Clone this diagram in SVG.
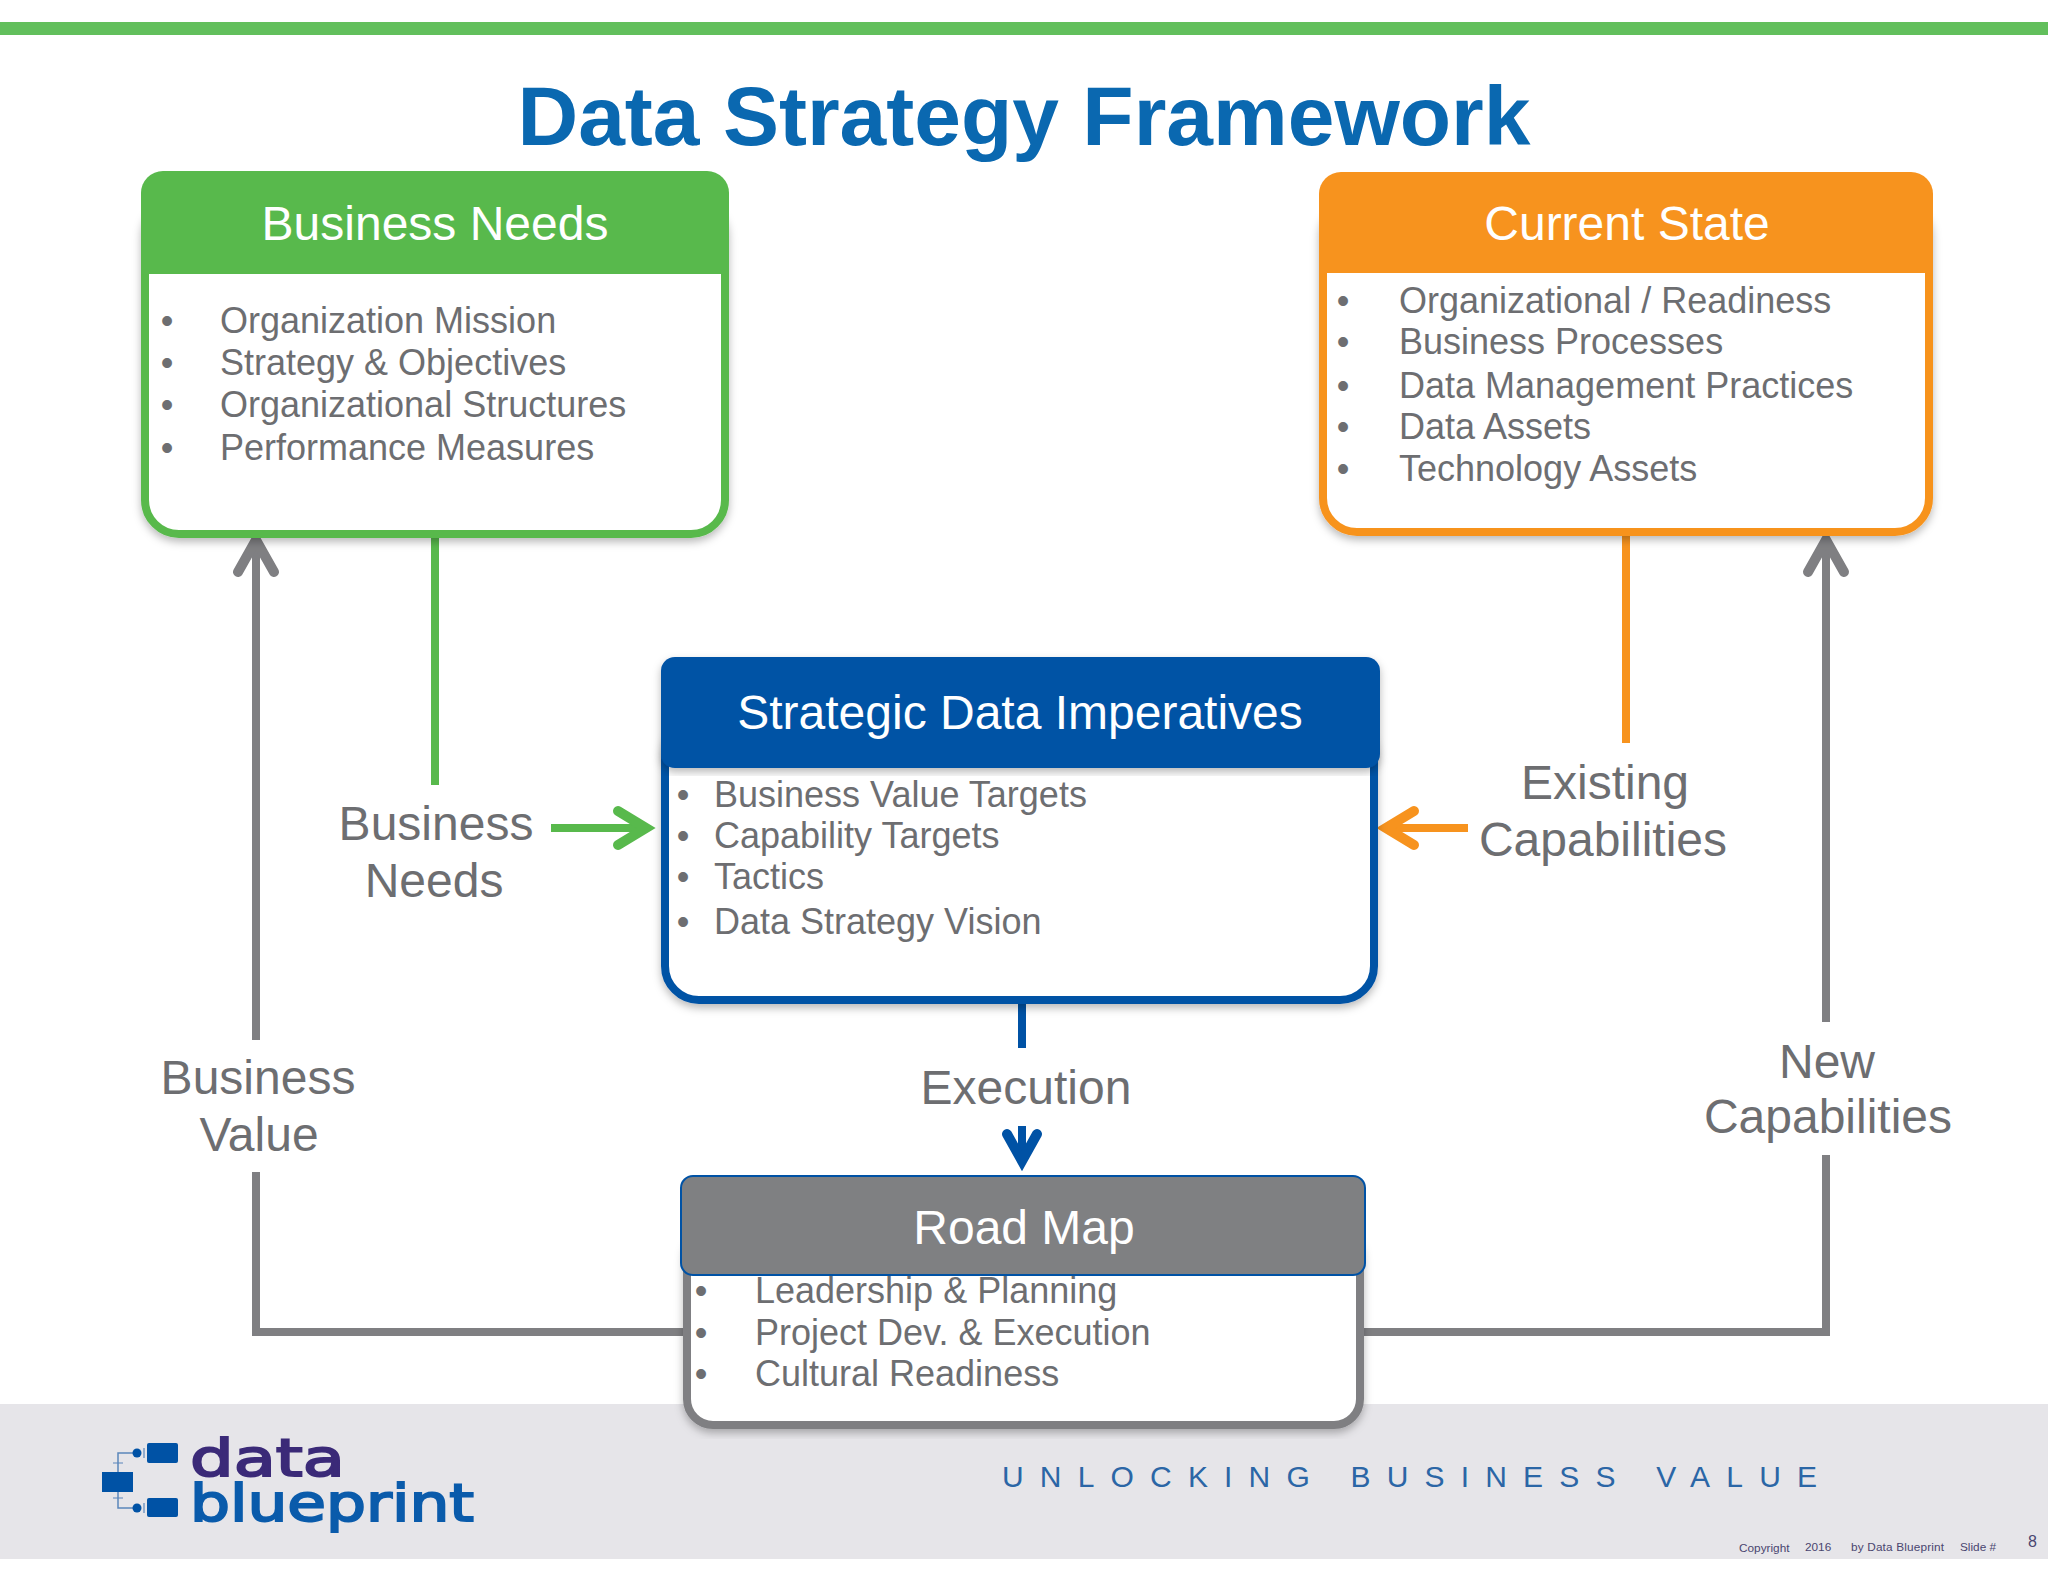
<svg xmlns="http://www.w3.org/2000/svg" width="2048" height="1582" viewBox="0 0 2048 1582">
<style>
text{font-family:"Liberation Sans",Arial,sans-serif}
.h{font-size:48px;fill:#fff;text-anchor:middle}
.li{font-size:36px;fill:#6d6e71}
.b{font-size:36px;fill:#6d6e71;text-anchor:middle}
.lb{font-size:48px;fill:#6d6e71;text-anchor:middle}
.ft{font-size:11.8px;fill:#4a4570}
.c{fill:none;stroke-width:8;stroke-linejoin:miter}
.a{fill:none;stroke-width:10;stroke-linecap:round;stroke-linejoin:miter}
.body{fill:#fff;stroke-width:8}
.logo{font-family:"DejaVu Sans",sans-serif;font-size:52px;stroke-width:2}
</style>
<defs>
<filter id="sh" x="-5%" y="-5%" width="110%" height="112%"><feDropShadow dx="0" dy="4" stdDeviation="4" flood-color="#000" flood-opacity="0.28"/></filter>
</defs>
<rect width="2048" height="1582" fill="#fff"/>
<rect id="top-bar" x="0" y="22" width="2048" height="13" fill="#62bf5c"/>
<rect id="footer-band" x="0" y="1404" width="2048" height="155" fill="#e6e5e9"/>
<text id="title" x="1024" y="145" text-anchor="middle" font-size="84" font-weight="700" fill="#0a68b0">Data Strategy Framework</text>

<g id="connectors">
<path class="c" stroke="#7f7f82" d="M256 1040V545"/>
<path class="c" stroke="#7f7f82" d="M256 1172V1332H690"/>
<path class="a" stroke="#7f7f82" d="M238 572L256 540L274 572"/>
<path class="c" stroke="#7f7f82" d="M1826 1022V545"/>
<path class="c" stroke="#7f7f82" d="M1826 1155V1332H1360"/>
<path class="a" stroke="#7f7f82" d="M1808 572L1826 540L1844 572"/>
<path class="c" stroke="#58b94c" d="M435 535V785"/>
<path class="c" stroke="#f7931e" d="M1626 533V743"/>
<path class="c" stroke="#58b94c" d="M551 828H640"/>
<path class="a" stroke="#58b94c" d="M618 811L646 828L618 845"/>
<path class="c" stroke="#f7931e" d="M1468 828H1392"/>
<path class="a" stroke="#f7931e" d="M1414 811L1386 828L1414 845"/>
<path class="c" stroke="#0052a5" d="M1022 1000V1048"/>
<path class="c" stroke="#0052a5" d="M1022 1126V1155"/>
<path class="a" stroke="#0052a5" d="M1007 1134L1022 1161L1037 1134"/>
</g>

<g id="node-business-needs">
<rect class="body" stroke="#58b94c" x="145" y="200" width="580" height="334" rx="34" filter="url(#sh)"/>
<path d="M141 274V193a22 22 0 0 1 22-22H707a22 22 0 0 1 22 22V274Z" fill="#58b94c"/>
<text class="h" x="435" y="240">Business Needs</text>
<text class="b" x="167" y="333">•</text><text class="li" x="220" y="333">Organization Mission</text>
<text class="b" x="167" y="375">•</text><text class="li" x="220" y="375">Strategy &amp; Objectives</text>
<text class="b" x="167" y="417">•</text><text class="li" x="220" y="417">Organizational Structures</text>
<text class="b" x="167" y="460">•</text><text class="li" x="220" y="460">Performance Measures</text>
</g>

<g id="node-current-state">
<rect class="body" stroke="#f7931e" x="1323" y="200" width="606" height="332" rx="34" filter="url(#sh)"/>
<path d="M1319 273V194a22 22 0 0 1 22-22H1911a22 22 0 0 1 22 22V273Z" fill="#f7931e"/>
<text class="h" x="1627" y="240">Current State</text>
<text class="b" x="1343" y="313">•</text><text class="li" x="1399" y="313">Organizational / Readiness</text>
<text class="b" x="1343" y="354">•</text><text class="li" x="1399" y="354">Business Processes</text>
<text class="b" x="1343" y="398">•</text><text class="li" x="1399" y="398">Data Management Practices</text>
<text class="b" x="1343" y="439">•</text><text class="li" x="1399" y="439">Data Assets</text>
<text class="b" x="1343" y="481">•</text><text class="li" x="1399" y="481">Technology Assets</text>
</g>

<g id="node-strategic-data-imperatives">
<rect class="body" stroke="#0052a5" x="665" y="720" width="709" height="280" rx="34" filter="url(#sh)"/>
<rect x="661" y="657" width="719" height="111" rx="14" fill="#0052a5" filter="url(#sh)"/>
<text class="h" x="1020" y="729">Strategic Data Imperatives</text>
<text class="b" x="683" y="807">•</text><text class="li" x="714" y="807">Business Value Targets</text>
<text class="b" x="683" y="848">•</text><text class="li" x="714" y="848">Capability Targets</text>
<text class="b" x="683" y="889">•</text><text class="li" x="714" y="889">Tactics</text>
<text class="b" x="683" y="934">•</text><text class="li" x="714" y="934">Data Strategy Vision</text>
</g>

<g id="node-road-map">
<rect class="body" stroke="#7f7f82" x="687" y="1230" width="673" height="195" rx="26" filter="url(#sh)"/>
<rect x="681" y="1176" width="684" height="99" rx="12" fill="#7f8082" stroke="#0052a5" stroke-width="2"/>
<text class="h" x="1024" y="1244">Road Map</text>
<text class="b" x="701" y="1303">•</text><text class="li" x="755" y="1303">Leadership &amp; Planning</text>
<text class="b" x="701" y="1345">•</text><text class="li" x="755" y="1345">Project Dev. &amp; Execution</text>
<text class="b" x="701" y="1386">•</text><text class="li" x="755" y="1386">Cultural Readiness</text>
</g>

<g id="labels">
<text class="lb" x="436" y="840">Business</text><text class="lb" x="434" y="897">Needs</text>
<text class="lb" x="1605" y="799">Existing</text><text class="lb" x="1603" y="856">Capabilities</text>
<text class="lb" x="1026" y="1104">Execution</text>
<text class="lb" x="258" y="1094">Business</text><text class="lb" x="259" y="1151">Value</text>
<text class="lb" x="1827" y="1078">New</text><text class="lb" x="1828" y="1133">Capabilities</text>
</g>

<g id="logo">
<rect x="147" y="1443" width="31" height="20" rx="2" fill="#0052a5"/>
<rect x="102" y="1472" width="31" height="20" fill="#0052a5"/>
<rect x="147" y="1498" width="31" height="19" rx="2" fill="#0052a5"/>
<path d="M137 1453H118V1472M118 1492V1508H137" fill="none" stroke="#5b86bb" stroke-width="1.5"/>
<path d="M113 1463H123M113 1498H123M144 1448V1458M144 1503V1513" fill="none" stroke="#5b86bb" stroke-width="1.2"/>
<circle cx="137" cy="1453" r="4.5" fill="#0052a5"/><circle cx="137" cy="1508" r="4.5" fill="#0052a5"/>
<text class="logo" x="190" y="1476" textLength="155" lengthAdjust="spacingAndGlyphs" fill="#3b2a78" stroke="#3b2a78">data</text>
<text class="logo" x="190" y="1521" textLength="284" lengthAdjust="spacingAndGlyphs" fill="#0a5bab" stroke="#0a5bab">blueprint</text>
</g>

<g id="footer">
<text x="1002" y="1487" font-size="30" textLength="815" lengthAdjust="spacing" fill="#2b66a6">UNLOCKING  BUSINESS  VALUE</text>
<text class="ft" x="1739" y="1552">Copyright</text>
<text class="ft" x="1805" y="1551">2016</text>
<text class="ft" x="1851" y="1551" textLength="93">by Data Blueprint</text>
<text class="ft" x="1960" y="1551">Slide #</text>
<text x="2028" y="1547" font-size="16" fill="#4a4570">8</text>
</g>
</svg>
